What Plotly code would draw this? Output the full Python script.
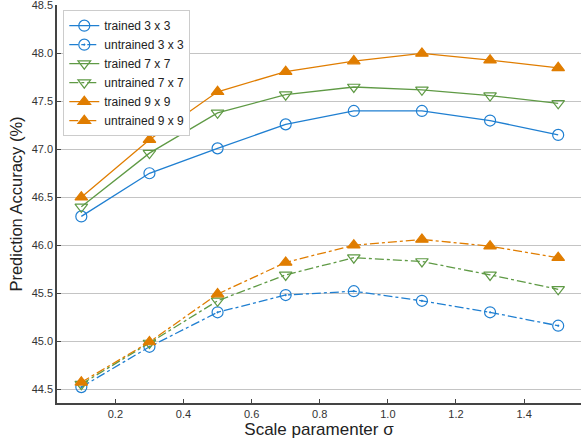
import plotly.graph_objects as go

sigma = [0.1, 0.3, 0.5, 0.7, 0.9, 1.1, 1.3, 1.5]
trained_3 = [46.30, 46.75, 47.01, 47.26, 47.40, 47.40, 47.30, 47.15]
untrained_3 = [44.52, 44.94, 45.30, 45.48, 45.52, 45.42, 45.30, 45.16]
trained_7 = [46.40, 46.96, 47.38, 47.57, 47.65, 47.62, 47.56, 47.48]
untrained_7 = [44.55, 44.98, 45.42, 45.69, 45.87, 45.83, 45.69, 45.54]
trained_9 = [46.50, 47.10, 47.60, 47.81, 47.92, 48.00, 47.93, 47.85]
untrained_9 = [44.57, 44.99, 45.49, 45.82, 46.00, 46.06, 45.99, 45.87]

x_ticks = [0.2, 0.4, 0.6, 0.8, 1.0, 1.2, 1.4]
y_ticks = [44.5, 45.0, 45.5, 46.0, 46.5, 47.0, 47.5, 48.0, 48.5]

BLUE = "#1f7fd1"
GREEN = "#5f9a45"
ORANGE = "#e07d00"

series = [
    ("trained 3 x 3", trained_3, BLUE, "solid", "circle-open"),
    ("untrained 3 x 3", untrained_3, BLUE, "dashdot", "circle-open-dot"),
    ("trained 7 x 7", trained_7, GREEN, "solid", "triangle-down-open"),
    ("untrained 7 x 7", untrained_7, GREEN, "dashdot", "triangle-down-open"),
    ("trained 9 x 9", trained_9, ORANGE, "solid", "triangle-up"),
    ("untrained 9 x 9", untrained_9, ORANGE, "dashdot", "triangle-up"),
]

fig = go.Figure()
for name, vals, col, dash, sym in series:
    fig.add_trace(go.Scatter(
        x=sigma, y=vals, name=name, mode="lines+markers",
        line=dict(color=col, width=1.3, dash=dash),
        marker=dict(symbol=sym, size=11, color=col,
                    line=dict(color=col, width=1.2)),
    ))

axis_common = dict(
    showline=True, linecolor="#444444", linewidth=1.5,
    ticks="inside", ticklen=4, tickcolor="#444444", tickwidth=1,
    tickfont=dict(size=11, color="#333333"),
    zeroline=False, mirror=False, ticklabeloverflow="allow",
)

fig.update_layout(
    width=581, height=440,
    margin=dict(l=57, r=0, t=5, b=37),
    paper_bgcolor="white", plot_bgcolor="white",
    font=dict(family="Liberation Sans, Arial, sans-serif", color="#222222"),
    xaxis=dict(range=[0.0286, 1.567], tickvals=x_ticks, tickformat=".1f",
               showgrid=False, automargin=True,
               title=dict(text="Scale paramenter σ", font=dict(size=17), standoff=4),
               **axis_common),
    yaxis=dict(range=[44.354, 48.505], tickvals=y_ticks, tickformat=".1f",
               showgrid=True, gridcolor="#c4c4c4", gridwidth=1, automargin=True,
               title=dict(text="Prediction Accuracy (%)", font=dict(size=16.5), standoff=5),
               **axis_common),
    legend=dict(x=0.012, y=0.987, xanchor="left", yanchor="top",
                bgcolor="white", bordercolor="#cccccc", borderwidth=1,
                font=dict(size=12, color="#222222"), tracegroupgap=0),
    showlegend=True,
)

fig.write_html("out.html", config={"displayModeBar": False},
               post_script="document.body.style.margin='0';document.body.style.overflow='hidden';")
